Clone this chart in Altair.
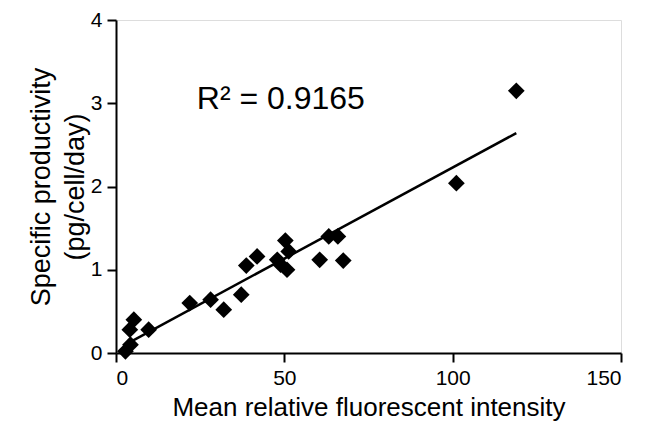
import altair as alt
import pandas as pd

mfi = [2.8, 4.3, 5.3, 4.1, 9.7, 21.9, 28.1, 32.0, 37.2, 38.7, 41.9, 47.9, 50.3,
       51.3, 48.9, 50.8, 60.5, 63.2, 65.9, 67.5, 101.1, 118.9]
qp = [0.02, 0.10, 0.40, 0.28, 0.28, 0.60, 0.64, 0.52, 0.70, 1.05, 1.16, 1.12, 1.35,
      1.22, 1.06, 1.00, 1.12, 1.40, 1.40, 1.11, 2.04, 3.15]
annotation = "R² = 0.9165"
ann_x = [24.0]
ann_y = [2.93]

df = pd.DataFrame({"mfi": mfi, "qp": qp})
ann = pd.DataFrame({"x": ann_x, "y": ann_y, "t": [annotation]})

FONT = "Liberation Sans"

xscale = alt.Scale(domain=[0, 150], nice=False)
yscale = alt.Scale(domain=[0, 4], nice=False)

xaxis = alt.Axis(values=[0, 50, 100, 150], title="Mean relative fluorescent intensity",
                 format="d",
                 grid=False, domainColor="black", domainWidth=2, tickColor="black",
                 tickWidth=2, tickSize=9, labelFontSize=21, labelColor="black",
                 labelFont=FONT, titleFont=FONT, titleFontSize=26, titleFontWeight="normal",
                 titleColor="black", labelPadding=5, titleBaseline="alphabetic",
                 titleY=62)
yaxis = alt.Axis(values=[0, 1, 2, 3, 4], title=["Specific productivity", "(pg/cell/day)"],
                 format="d",
                 grid=False, domainColor="black", domainWidth=2, tickColor="black",
                 tickWidth=2, tickSize=9, labelFontSize=21, labelColor="black",
                 labelFont=FONT, titleFont=FONT, titleFontSize=27, titleFontWeight="normal",
                 titleColor="black", labelPadding=5, titlePadding=1, titleLineHeight=34)

points = alt.Chart(df).mark_point(shape="diamond", filled=True, color="black",
                                  size=280, opacity=1).encode(
    x=alt.X("mfi:Q", scale=xscale, axis=xaxis),
    y=alt.Y("qp:Q", scale=yscale, axis=yaxis),
)

line = alt.Chart(df).transform_regression("mfi", "qp").mark_line(
    color="black", strokeWidth=2.5).encode(
    x=alt.X("mfi:Q", scale=xscale),
    y=alt.Y("qp:Q", scale=yscale),
)

text = alt.Chart(ann).mark_text(align="left", baseline="alphabetic", fontSize=32,
                                font=FONT, color="black").encode(
    x=alt.X("x:Q", scale=xscale),
    y=alt.Y("y:Q", scale=yscale),
    text="t:N",
)

chart = (line + points + text).properties(
    width=505, height=333,
    autosize=alt.AutoSizeParams(type="none"),
    padding={"left": 108, "top": 12, "right": 17, "bottom": 70},
).configure_view(stroke=None).configure(background="white")

chart.save("out.html", embed_options={"renderer": "svg", "actions": False})
